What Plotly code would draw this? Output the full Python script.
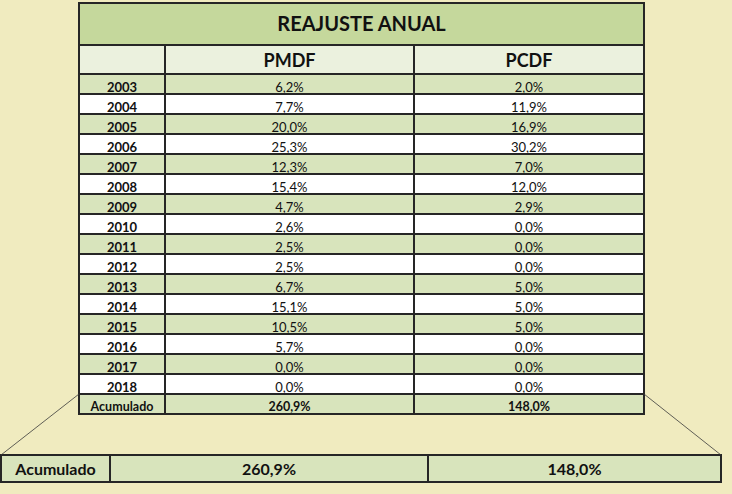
import plotly.graph_objects as go

# data
years = ['2003', '2004', '2005', '2006', '2007', '2008', '2009', '2010',
         '2011', '2012', '2013', '2014', '2015', '2016', '2017', '2018']
pmdf = [6.2, 7.7, 20.0, 25.3, 12.3, 15.4, 4.7, 2.6, 2.5, 2.5, 6.7, 15.1, 10.5, 5.7, 0.0, 0.0]
pcdf = [2.0, 11.9, 16.9, 30.2, 7.0, 12.0, 2.9, 0.0, 0.0, 0.0, 5.0, 5.0, 5.0, 0.0, 0.0, 0.0]
total_label = 'Acumulado'
total_pmdf = 260.9
total_pcdf = 148.0
title_text = 'REAJUSTE\u00a0ANUAL'
col_names = ['', 'PMDF', 'PCDF']

W, H = 732, 494
FONT = 'Lato'
BG = '#F0EBBF'
GREEN = '#C5D89C'
LIGHT = '#EBF1DE'
ROW_GREEN = '#D8E4BC'
LINE = '#262626'
INK = '#111111'


def pct(v):
    return f'{v:.1f}'.replace('.', ',') + '%'


def fx(p):
    return p / W


def fy(p):
    return 1 - p / H


def one_row_table(values, xs, y_top, height, widths, fill, size, lw, lc=LINE):
    # a single row drawn as a table header; the dummy cell row below is invisible
    return go.Table(
        domain=dict(x=[fx(xs[0]), fx(xs[1])], y=[fy(y_top + height + 2), fy(y_top)]),
        columnwidth=widths,
        header=dict(values=values, fill_color=fill, height=height,
                    line=dict(color=lc, width=lw), align='center',
                    font=dict(family=FONT, size=size, color=INK, weight='bold')),
        cells=dict(values=[['']] * len(values), height=1, fill_color=BG,
                   line=dict(color=BG, width=0)),
    )


# geometry in pixels
x0, x1 = 79, 644
top, title_h, hdr_h, row_h = 3, 42, 29, 20
title_drop = 5
widths = [86, 249, 230]
tbl_top = top + title_h
acc_top = tbl_top + hdr_h + len(years) * row_h
tbl_bot = acc_top + row_h

zx0, zx1 = 1, 721
z_top, z_h = 455, 27
zwidths = [109, 318, 293]

row_fill = [ROW_GREEN if i % 2 == 0 else 'white' for i in range(len(years))]
acc_fill = ROW_GREEN if len(years) % 2 == 0 else 'white'
weights = ['bold', 'normal', 'normal']
acc_values = [total_label, pct(total_pmdf), pct(total_pcdf)]

fig = go.Figure()

fig.add_trace(one_row_table([title_text], (x0 + 1, x1 - 1), top + title_drop,
                            title_h - title_drop, [1], GREEN, 20, 0, GREEN))

fig.add_trace(go.Table(
    domain=dict(x=[fx(x0), fx(x1)], y=[fy(acc_top + 1), fy(tbl_top)]),
    columnwidth=widths,
    header=dict(values=col_names, fill_color=LIGHT, height=hdr_h,
                line=dict(color=LINE, width=1.5), align='center',
                font=dict(family=FONT, size=18, color=INK, weight='bold')),
    cells=dict(values=[years, [pct(v) for v in pmdf], [pct(v) for v in pcdf]],
               fill_color=[row_fill] * 3, height=row_h,
               line=dict(color=LINE, width=1.2), align='center',
               font=dict(family=FONT, size=13, color=INK, weight=weights)),
))

fig.add_trace(one_row_table(acc_values, (x0, x1), acc_top, row_h, widths, acc_fill, 12.5, 1.2))
fig.add_trace(one_row_table(acc_values, (zx0, zx1), z_top, z_h, zwidths, ROW_GREEN, 16, 1.5))

# title background, outer frames and the zoom connector lines
shapes = [
    dict(type='rect', x0=fx(x0), x1=fx(x1), y0=fy(tbl_top), y1=fy(top),
         fillcolor=GREEN, line=dict(width=0), layer='below'),
    dict(type='rect', x0=fx(x0), x1=fx(x1), y0=fy(tbl_bot), y1=fy(top),
         line=dict(color=LINE, width=2)),
    dict(type='rect', x0=fx(zx0), x1=fx(zx1), y0=fy(z_top + z_h), y1=fy(z_top),
         line=dict(color=LINE, width=2)),
    dict(type='line', x0=fx(x0), y0=fy(acc_top), x1=fx(zx0), y1=fy(z_top),
         line=dict(color='#3a3a3a', width=0.8)),
    dict(type='line', x0=fx(x1), y0=fy(acc_top), x1=fx(zx1), y1=fy(z_top),
         line=dict(color='#3a3a3a', width=0.8)),
]
for s in shapes:
    s.update(xref='paper', yref='paper')

fig.update_layout(
    width=W, height=H,
    margin=dict(l=0, r=0, t=0, b=0),
    paper_bgcolor=BG, plot_bgcolor=BG,
    shapes=shapes,
)

fig.write_html('out.html', config={'displayModeBar': False},
               post_script="document.body.style.margin='0';")
